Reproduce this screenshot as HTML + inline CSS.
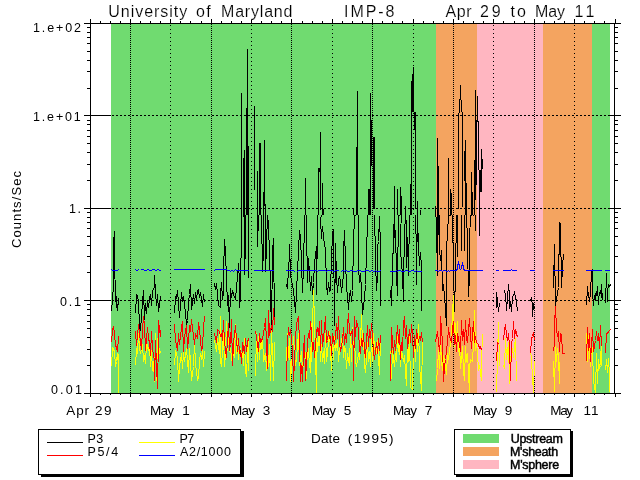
<!DOCTYPE html>
<html lang="en"><head><meta charset="utf-8"><title>University of Maryland IMP-8 Apr 29 to May 11</title>
<style>html,body{margin:0;padding:0;background:#fff;}body{width:640px;height:480px;overflow:hidden;}svg{display:block;}text{font-family:"Liberation Sans",sans-serif;fill:#000;}text.b{stroke:#000;stroke-width:0.45px;}text.t{stroke:#fff;stroke-width:0.15px;paint-order:fill stroke;}</style>
</head><body>
<svg width="640" height="480" viewBox="0 0 640 480" shape-rendering="crispEdges">
<rect x="0" y="0" width="640" height="480" fill="#fff"/>
<g id="regions">
<rect x="111" y="24" width="325" height="369" fill="#70db70"/>
<rect x="436" y="24" width="41" height="369" fill="#f4a460"/>
<rect x="477" y="24" width="66" height="369" fill="#ffb6c1"/>
<rect x="543" y="24" width="49" height="369" fill="#f4a460"/>
<rect x="592" y="24" width="18" height="369" fill="#70db70"/>
</g>
<g id="grid" stroke="#000" stroke-width="1" fill="none">
<line x1="130.5" y1="24" x2="130.5" y2="393" stroke-dasharray="1 1"/>
<line x1="170.5" y1="25" x2="170.5" y2="393" stroke-dasharray="1 3"/>
<line x1="211.5" y1="24" x2="211.5" y2="393" stroke-dasharray="1 1"/>
<line x1="251.5" y1="25" x2="251.5" y2="393" stroke-dasharray="1 3"/>
<line x1="291.5" y1="24" x2="291.5" y2="393" stroke-dasharray="1 1"/>
<line x1="332.5" y1="25" x2="332.5" y2="393" stroke-dasharray="1 3"/>
<line x1="372.5" y1="24" x2="372.5" y2="393" stroke-dasharray="1 1"/>
<line x1="413.5" y1="25" x2="413.5" y2="393" stroke-dasharray="1 3"/>
<line x1="453.5" y1="24" x2="453.5" y2="393" stroke-dasharray="1 1"/>
<line x1="493.5" y1="25" x2="493.5" y2="393" stroke-dasharray="1 3"/>
<line x1="534.5" y1="24" x2="534.5" y2="393" stroke-dasharray="1 1"/>
<line x1="574.5" y1="25" x2="574.5" y2="393" stroke-dasharray="1 3"/>
<line x1="90" y1="115.5" x2="111" y2="115.5"/>
<line x1="112" y1="115.5" x2="610" y2="115.5" stroke-dasharray="2 2"/>
<line x1="610" y1="115.5" x2="614" y2="115.5"/>
<line x1="90" y1="208.5" x2="111" y2="208.5"/>
<line x1="112" y1="208.5" x2="610" y2="208.5" stroke-dasharray="2 2"/>
<line x1="610" y1="208.5" x2="614" y2="208.5"/>
<line x1="90" y1="300.5" x2="111" y2="300.5"/>
<line x1="112" y1="300.5" x2="610" y2="300.5" stroke-dasharray="2 2"/>
<line x1="610" y1="300.5" x2="614" y2="300.5"/>
</g>
<defs><clipPath id="plotclip"><rect x="91" y="24" width="523" height="370"/></clipPath><clipPath id="lowclip"><rect x="91" y="215" width="523" height="179"/></clipPath></defs>
<g id="p3" stroke="#000" stroke-width="1" fill="none" stroke-linejoin="bevel" clip-path="url(#lowclip)">
<polyline points="111.5,311.5 112.5,298.5 113.5,285.5 113.5,243.5 114.5,231.5 114.5,261.5 115.5,296.5 116.5,307.5 116.5,296.5 117.5,310.5 118.5,298.5 118.5,304.5"/>
<polyline points="135.5,313.5 136.5,294.5 137.5,296.5 138.5,301.5 139.5,326.5 140.5,330.5 141.5,316.5 142.5,301.5 143.5,290.5 144.5,319.5 145.5,303.5 146.5,313.5 147.5,300.5 148.5,307.5 149.5,298.5 150.5,294.5 151.5,305.5 152.5,291.5 154.5,286.5 154.5,275.5 155.5,291.5 156.5,305.5 157.5,294.5 158.5,311.5 160.5,296.5 160.5,300.5"/>
<polyline points="174.5,313.5 175.5,296.5 176.5,298.5 177.5,290.5 178.5,303.5 179.5,317.5 181.5,292.5 182.5,301.5 183.5,296.5 184.5,305.5 185.5,311.5 186.5,326.5 187.5,320.5 188.5,301.5 189.5,294.5 190.5,284.5 191.5,309.5 193.5,294.5 194.5,303.5 195.5,292.5 196.5,299.5 197.5,290.5 198.5,289.5 199.5,297.5 200.5,292.5 202.5,306.5 203.5,294.5 204.5,302.5"/>
<polyline points="214.5,283.5 215.5,289.5 216.5,283.5 217.5,294.5 218.5,305.5 220.5,307.5 220.5,293.5 221.5,282.5 222.5,299.5 223.5,292.5 223.5,272.5 224.5,239.5 225.5,252.5 226.5,278.5 227.5,305.5 228.5,295.5 229.5,327.5 230.5,288.5 231.5,297.5 232.5,290.5 233.5,294.5 235.5,299.5 236.5,287.5 237.5,276.5 238.5,263.5 239.5,282.5 239.5,307.5 240.5,297.5 241.5,220.5 241.5,93.5 242.5,200.5 243.5,158.5 244.5,274.5 244.5,150.5 245.5,258.5 246.5,108.5 246.5,200.5 247.5,49.5 248.5,277.5 248.5,250.5"/>
<polyline points="254.5,190.5 255.5,106.5 255.5,190.5 256.5,160.5 257.5,246.5 257.5,171.5 258.5,230.5 259.5,143.5 260.5,150.5 261.5,215.5 262.5,271.5 263.5,251.5 263.5,192.5 264.5,140.5 265.5,205.5 265.5,271.5 266.5,247.5 267.5,210.5 268.5,228.5 269.5,250.5 269.5,243.5 270.5,294.5 271.5,329.5 272.5,252.5 273.5,238.5 274.5,324.5"/>
<polyline points="286.5,284.5 287.5,288.5 288.5,267.5 289.5,256.5 289.5,244.5 290.5,273.5 291.5,281.5 292.5,284.5 293.5,290.5 294.5,301.5 295.5,312.5 299.5,230.5 300.5,237.5 301.5,262.5 302.5,292.5 303.5,266.5 304.5,220.5 305.5,178.5 306.5,228.5 307.5,282.5 308.5,258.5 309.5,273.5 310.5,290.5 311.5,276.5 312.5,294.5 313.5,282.5 314.5,263.5 316.5,246.5 316.5,294.5 317.5,224.5 318.5,168.5 319.5,175.5 320.5,132.5 321.5,168.5 322.5,183.5 324.5,209.5 320.5,218.5 321.5,238.5 322.5,226.5 323.5,237.5 325.5,250.5 326.5,284.5 327.5,294.5 328.5,282.5 329.5,291.5 330.5,290.5 331.5,258.5 332.5,233.5 333.5,229.5 334.5,325.5 335.5,243.5 336.5,276.5 337.5,292.5 338.5,280.5 339.5,276.5 340.5,281.5 341.5,292.5 343.5,274.5 343.5,252.5 344.5,230.5 345.5,261.5 346.5,286.5 347.5,296.5 348.5,309.5 349.5,295.5 350.5,290.5 351.5,301.5 352.5,290.5 353.5,243.5 354.5,215.5 353.5,208.5 355.5,215.5 356.5,147.5 357.5,200.5 357.5,90.5 358.5,215.5 358.5,266.5 359.5,282.5 360.5,273.5 361.5,290.5 362.5,314.5 364.5,297.5 365.5,284.5 366.5,252.5 367.5,222.5 368.5,189.5 369.5,200.5 370.5,93.5 371.5,140.5 371.5,166.5 372.5,125.5 373.5,137.5 374.5,209.5 375.5,261.5 376.5,290.5 377.5,275.5 377.5,246.5 378.5,241.5 379.5,216.5 380.5,246.5 380.5,275.5 380.5,305.5"/>
<polyline points="390.5,290.5 391.5,305.5 391.5,297.5 392.5,275.5 393.5,233.5 394.5,215.5 394.5,186.5 394.5,237.5 395.5,230.5 396.5,275.5 397.5,295.5 397.5,261.5 398.5,233.5 398.5,189.5 399.5,215.5 400.5,187.5 401.5,196.5 400.5,252.5 401.5,261.5 402.5,276.5 403.5,301.5 403.5,271.5 404.5,243.5 405.5,205.5 406.5,233.5 406.5,267.5 407.5,237.5 408.5,275.5 409.5,215.5 410.5,184.5 411.5,81.5 411.5,140.5 412.5,74.5 413.5,67.5 414.5,112.5 415.5,209.5 415.5,180.5 416.5,284.5 417.5,201.5 417.5,241.5 418.5,233.5 418.5,246.5 419.5,265.5 420.5,252.5 421.5,267.5 421.5,310.5"/>
<polyline points="435.5,215.5 435.5,205.5 436.5,228.5 437.5,275.5 437.5,138.5 438.5,234.5 438.5,166.5 439.5,249.5 440.5,260.5 441.5,250.5 442.5,290.5 443.5,284.5 445.5,309.5 446.5,325.5 446.5,271.5 446.5,249.5 448.5,215.5 448.5,158.5 449.5,215.5 450.5,189.5 450.5,215.5 451.5,193.5 452.5,215.5 453.5,268.5 454.5,311.5 455.5,273.5 456.5,215.5 457.5,200.5 457.5,256.5 458.5,125.5 458.5,113.5 459.5,209.5 459.5,99.5 460.5,85.5 461.5,250.5 461.5,100.5 462.5,207.5 462.5,112.5 463.5,170.5 464.5,250.5 464.5,151.5 464.5,181.5 465.5,140.5 466.5,183.5 466.5,215.5 467.5,240.5 468.5,296.5 469.5,275.5 469.5,240.5 470.5,215.5 471.5,172.5 471.5,215.5 472.5,192.5 473.5,215.5 474.5,160.5 474.5,90.5 475.5,230.5 476.5,120.5 476.5,185.5 477.5,96.5 478.5,121.5 478.5,170.5 479.5,235.5 480.5,192.5 481.5,149.5 481.5,192.5 482.5,159.5 483.5,169.5"/>
<polyline points="496.5,307.5 496.5,292.5 497.5,301.5 498.5,311.5 499.5,303.5"/>
<polyline points="503.5,291.5 504.5,290.5 505.5,295.5 505.5,293.5 506.5,310.5 507.5,298.5 508.5,284.5 509.5,295.5 509.5,308.5 510.5,301.5 511.5,311.5 512.5,297.5 514.5,292.5 514.5,291.5 515.5,297.5 516.5,301.5 517.5,311.5"/>
<polyline points="530.5,301.5 531.5,297.5 532.5,305.5 532.5,316.5 533.5,303.5 534.5,309.5"/>
<polyline points="553.5,264.5 553.5,287.5 554.5,244.5 555.5,305.5 556.5,299.5 557.5,293.5 558.5,287.5 559.5,222.5 560.5,224.5 561.5,287.5 562.5,266.5 563.5,254.5"/>
<polyline points="586.5,305.5 587.5,286.5 587.5,290.5 588.5,294.5 589.5,301.5 590.5,292.5 591.5,271.5 592.5,269.5 592.5,292.5 593.5,305.5 594.5,295.5 595.5,300.5 595.5,293.5 596.5,295.5 597.5,286.5 598.5,304.5 598.5,299.5 599.5,293.5 600.5,290.5 601.5,297.5 601.5,284.5 602.5,300.5"/>
<polyline points="605.5,303.5 606.5,273.5 607.5,301.5 607.5,291.5 608.5,284.5 609.5,286.5 610.5,284.5"/>
</g>
<g id="p3bars" fill="#000">
<rect x="241" y="93" width="1" height="122"/>
<rect x="243" y="158" width="1" height="57"/>
<rect x="244" y="150" width="1" height="65"/>
<rect x="246" y="108" width="1" height="107"/>
<rect x="247" y="49" width="1" height="166"/>
<rect x="248" y="146" width="1" height="69"/>
<rect x="254" y="106" width="1" height="84"/>
<rect x="257" y="171" width="1" height="44"/>
<rect x="259" y="143" width="1" height="72"/>
<rect x="260" y="143" width="1" height="72"/>
<rect x="263" y="192" width="1" height="23"/>
<rect x="264" y="140" width="1" height="66"/>
<rect x="265" y="204" width="1" height="11"/>
<rect x="305" y="178" width="1" height="37"/>
<rect x="318" y="168" width="1" height="47"/>
<rect x="319" y="168" width="1" height="4"/>
<rect x="320" y="132" width="1" height="78"/>
<rect x="322" y="183" width="1" height="32"/>
<rect x="323" y="209" width="1" height="6"/>
<rect x="353" y="208" width="1" height="7"/>
<rect x="356" y="147" width="1" height="68"/>
<rect x="357" y="91" width="1" height="124"/>
<rect x="368" y="189" width="1" height="26"/>
<rect x="369" y="189" width="1" height="26"/>
<rect x="370" y="93" width="1" height="122"/>
<rect x="371" y="120" width="1" height="46"/>
<rect x="373" y="137" width="1" height="72"/>
<rect x="374" y="137" width="1" height="72"/>
<rect x="394" y="186" width="1" height="29"/>
<rect x="397" y="189" width="1" height="26"/>
<rect x="400" y="187" width="1" height="28"/>
<rect x="401" y="196" width="1" height="19"/>
<rect x="405" y="206" width="1" height="9"/>
<rect x="410" y="184" width="1" height="31"/>
<rect x="411" y="81" width="1" height="134"/>
<rect x="412" y="74" width="1" height="38"/>
<rect x="413" y="67" width="1" height="45"/>
<rect x="414" y="112" width="1" height="18"/>
<rect x="415" y="112" width="1" height="97"/>
<rect x="417" y="201" width="1" height="14"/>
<rect x="420" y="210" width="1" height="5"/>
<rect x="435" y="206" width="1" height="9"/>
<rect x="437" y="138" width="1" height="77"/>
<rect x="438" y="166" width="1" height="49"/>
<rect x="448" y="158" width="1" height="57"/>
<rect x="450" y="189" width="1" height="26"/>
<rect x="451" y="193" width="1" height="22"/>
<rect x="458" y="113" width="1" height="96"/>
<rect x="459" y="99" width="1" height="14"/>
<rect x="460" y="85" width="1" height="15"/>
<rect x="461" y="100" width="1" height="12"/>
<rect x="462" y="112" width="1" height="95"/>
<rect x="464" y="151" width="1" height="30"/>
<rect x="465" y="140" width="1" height="75"/>
<rect x="466" y="183" width="1" height="32"/>
<rect x="471" y="172" width="1" height="43"/>
<rect x="472" y="192" width="1" height="23"/>
<rect x="474" y="160" width="1" height="55"/>
<rect x="475" y="90" width="1" height="110"/>
<rect x="476" y="120" width="1" height="65"/>
<rect x="477" y="96" width="1" height="26"/>
<rect x="478" y="121" width="1" height="49"/>
<rect x="479" y="170" width="1" height="45"/>
<rect x="480" y="170" width="1" height="22"/>
<rect x="481" y="149" width="1" height="43"/>
<rect x="482" y="159" width="1" height="10"/>
</g>
<g id="p7" stroke="#ff0" stroke-width="1" fill="none" stroke-linejoin="bevel" clip-path="url(#plotclip)">
<polyline points="111.5,366.5 112.5,347.5 114.5,351.5 115.5,366.5 116.5,361.5 117.5,353.5 118.5,366.5 118.5,392.5 118.5,353.5"/>
<polyline points="135.5,365.5 136.5,348.5 137.5,353.5 138.5,333.5 139.5,348.5 140.5,353.5 142.5,344.5 143.5,361.5 144.5,355.5 145.5,363.5 146.5,342.5 148.5,350.5 149.5,344.5 150.5,366.5 151.5,350.5 152.5,370.5 153.5,361.5 154.5,381.5 155.5,333.5 156.5,380.5 157.5,338.5 158.5,359.5 159.5,348.5 160.5,353.5"/>
<polyline points="174.5,365.5 175.5,350.5 177.5,357.5 178.5,381.5 179.5,366.5 181.5,353.5 182.5,368.5 183.5,351.5 184.5,361.5 186.5,348.5 187.5,361.5 188.5,372.5 189.5,348.5 190.5,361.5 191.5,380.5 193.5,366.5 194.5,342.5 195.5,363.5 197.5,380.5 198.5,376.5 199.5,361.5 200.5,353.5 201.5,359.5 202.5,350.5 203.5,366.5 204.5,351.5"/>
<polyline points="214.5,340.5 216.5,351.5 217.5,338.5 219.5,353.5 220.5,316.5 220.5,361.5 221.5,366.5 223.5,333.5 224.5,366.5 225.5,353.5 226.5,321.5 227.5,350.5 228.5,338.5 229.5,351.5 230.5,348.5 232.5,365.5 233.5,346.5 234.5,357.5 235.5,324.5 236.5,353.5 237.5,340.5 238.5,359.5 239.5,346.5 241.5,353.5 242.5,350.5 243.5,365.5 244.5,338.5 245.5,370.5 246.5,376.5 247.5,351.5 248.5,338.5 248.5,370.5"/>
<polyline points="255.5,376.5 256.5,333.5 257.5,361.5 258.5,336.5 259.5,359.5 260.5,340.5 261.5,348.5 262.5,336.5 263.5,361.5 265.5,353.5 266.5,370.5 267.5,351.5 268.5,366.5 269.5,344.5 270.5,380.5 271.5,331.5 272.5,353.5 273.5,380.5 274.5,342.5"/>
<polyline points="286.5,361.5 287.5,333.5 288.5,357.5 289.5,338.5 290.5,381.5 292.5,351.5 293.5,336.5 294.5,353.5 295.5,365.5 296.5,359.5 297.5,344.5 298.5,333.5 299.5,365.5 301.5,351.5 302.5,372.5 303.5,361.5 304.5,346.5 305.5,357.5 306.5,378.5 307.5,342.5 308.5,353.5 310.5,372.5 311.5,323.5 311.5,361.5 313.5,290.5 314.5,321.5 316.5,392.5 316.5,331.5 317.5,351.5 319.5,329.5 320.5,361.5 321.5,344.5 322.5,361.5 323.5,351.5 324.5,363.5 325.5,333.5 326.5,361.5 328.5,342.5 329.5,331.5 330.5,351.5 331.5,370.5 332.5,333.5 333.5,359.5 334.5,336.5 335.5,350.5 337.5,340.5 338.5,361.5 339.5,348.5 340.5,350.5 342.5,333.5 343.5,357.5 344.5,346.5 345.5,350.5 346.5,368.5 347.5,353.5 349.5,365.5 350.5,331.5 351.5,361.5 352.5,327.5 353.5,353.5 354.5,340.5 355.5,361.5 356.5,366.5 358.5,353.5 359.5,359.5 360.5,342.5 361.5,314.5 362.5,344.5 363.5,333.5 364.5,365.5 365.5,372.5 367.5,342.5 368.5,361.5 369.5,351.5 370.5,366.5 371.5,338.5 372.5,361.5 373.5,333.5 374.5,348.5 376.5,353.5 377.5,340.5 378.5,357.5 379.5,374.5 380.5,338.5"/>
<polyline points="390.5,351.5 391.5,378.5 392.5,350.5 394.5,366.5 395.5,353.5 396.5,361.5 397.5,336.5 398.5,351.5 399.5,342.5 400.5,366.5 401.5,350.5 403.5,361.5 404.5,355.5 405.5,372.5 406.5,385.5 407.5,342.5 408.5,361.5 409.5,333.5 410.5,387.5 412.5,389.5 413.5,350.5 414.5,342.5 415.5,361.5 416.5,329.5 417.5,351.5 418.5,324.5 419.5,366.5 420.5,376.5 421.5,390.5 422.5,342.5"/>
<polyline points="436.5,381.5 437.5,368.5 438.5,350.5 439.5,368.5 440.5,342.5 441.5,361.5 442.5,370.5 443.5,355.5 445.5,366.5 446.5,374.5 447.5,353.5 448.5,359.5 449.5,351.5 450.5,342.5 451.5,333.5 452.5,312.5 453.5,295.5 454.5,346.5 455.5,323.5 456.5,342.5 457.5,321.5 458.5,351.5 459.5,342.5 460.5,368.5 461.5,357.5 462.5,346.5 463.5,370.5 464.5,380.5 465.5,346.5 466.5,361.5 467.5,353.5 469.5,392.5 469.5,366.5 470.5,359.5 472.5,361.5 473.5,342.5 474.5,310.5 475.5,350.5 476.5,342.5 477.5,353.5 478.5,370.5 479.5,365.5 481.5,380.5 481.5,361.5 482.5,334.5"/>
<polyline points="496.5,392.5 497.5,357.5 498.5,322.5 499.5,366.5"/>
<polyline points="503.5,365.5 504.5,368.5 505.5,338.5 506.5,359.5 508.5,342.5 509.5,383.5 510.5,361.5 511.5,351.5 512.5,348.5 513.5,357.5 514.5,346.5 515.5,338.5 516.5,381.5"/>
<polyline points="530.5,348.5 531.5,361.5 532.5,376.5 533.5,392.5 534.5,361.5"/>
<polyline points="553.5,361.5 554.5,391.5 555.5,346.5 556.5,361.5 557.5,348.5 558.5,357.5 559.5,383.5 559.5,361.5"/>
<polyline points="586.5,333.5 587.5,361.5 588.5,335.5 589.5,350.5 590.5,366.5 591.5,342.5 592.5,351.5 593.5,380.5 595.5,392.5 596.5,353.5 597.5,383.5 598.5,359.5 599.5,368.5 600.5,365.5 601.5,336.5 601.5,365.5"/>
<polyline points="605.5,370.5 606.5,359.5 607.5,372.5 608.5,358.5 609.5,374.5 609.5,391.5"/>
</g>
<g id="p5" stroke="#f00" stroke-width="1" fill="none" stroke-linejoin="bevel" clip-path="url(#plotclip)">
<polyline points="111.5,342.5 112.5,329.5 113.5,326.5 114.5,333.5 115.5,345.5 116.5,347.5 117.5,351.5 118.5,336.5"/>
<polyline points="135.5,331.5 136.5,345.5 138.5,324.5 139.5,333.5 141.5,349.5 142.5,329.5 143.5,316.5 144.5,325.5 145.5,350.5 147.5,327.5 148.5,338.5 149.5,342.5 150.5,355.5 151.5,331.5 152.5,348.5 154.5,361.5 154.5,380.5 155.5,340.5 157.5,388.5 158.5,338.5 158.5,320.5 160.5,336.5 160.5,329.5"/>
<polyline points="174.5,324.5 175.5,340.5 177.5,350.5 178.5,333.5 179.5,344.5 181.5,327.5 182.5,321.5 183.5,351.5 184.5,336.5 186.5,325.5 187.5,348.5 188.5,340.5 189.5,325.5 190.5,331.5 191.5,319.5 193.5,335.5 194.5,344.5 195.5,333.5 197.5,338.5 198.5,322.5 199.5,329.5 200.5,340.5 201.5,350.5 202.5,346.5 203.5,327.5 204.5,316.5"/>
<polyline points="214.5,333.5 216.5,342.5 217.5,329.5 219.5,331.5 220.5,336.5 221.5,333.5 222.5,340.5 223.5,320.5 224.5,342.5 226.5,357.5 227.5,338.5 228.5,323.5 229.5,350.5 230.5,344.5 231.5,319.5 232.5,365.5 233.5,342.5 235.5,325.5 236.5,340.5 237.5,351.5 238.5,338.5 239.5,353.5 240.5,350.5 241.5,363.5 242.5,342.5 244.5,353.5 245.5,338.5 246.5,351.5 247.5,342.5 248.5,338.5"/>
<polyline points="255.5,331.5 256.5,336.5 257.5,344.5 258.5,351.5 259.5,333.5 260.5,342.5 262.5,338.5 263.5,333.5 264.5,327.5 265.5,318.5 266.5,342.5 267.5,368.5 268.5,310.5 269.5,335.5 271.5,325.5 272.5,331.5 273.5,308.5 274.5,325.5"/>
<polyline points="286.5,381.5 287.5,342.5 288.5,327.5 289.5,335.5 290.5,329.5 291.5,338.5 292.5,350.5 293.5,381.5 294.5,361.5 295.5,338.5 296.5,323.5 298.5,316.5 299.5,342.5 300.5,381.5 301.5,365.5 302.5,381.5 303.5,351.5 304.5,335.5 305.5,380.5 307.5,342.5 308.5,333.5 309.5,338.5 310.5,321.5 311.5,331.5 312.5,351.5 313.5,342.5 314.5,357.5 316.5,331.5 317.5,327.5 318.5,335.5 319.5,321.5 320.5,350.5 321.5,320.5 322.5,346.5 323.5,338.5 325.5,316.5 326.5,342.5 327.5,340.5 328.5,331.5 329.5,338.5 330.5,336.5 331.5,355.5 332.5,333.5 334.5,344.5 335.5,336.5 336.5,323.5 337.5,338.5 338.5,316.5 339.5,342.5 340.5,351.5 342.5,340.5 343.5,327.5 344.5,344.5 345.5,333.5 346.5,342.5 347.5,325.5 348.5,313.5 349.5,331.5 350.5,335.5 352.5,329.5 353.5,359.5 353.5,380.5 354.5,316.5 355.5,336.5 356.5,320.5 358.5,329.5 359.5,350.5 360.5,353.5 361.5,338.5 362.5,346.5 363.5,333.5 364.5,350.5 365.5,357.5 367.5,325.5 368.5,346.5 369.5,329.5 370.5,338.5 371.5,323.5 372.5,335.5 373.5,351.5 374.5,359.5 376.5,342.5 377.5,353.5 378.5,338.5 379.5,350.5 380.5,335.5"/>
<polyline points="390.5,381.5 391.5,327.5 392.5,342.5 393.5,353.5 394.5,340.5 395.5,350.5 397.5,325.5 398.5,342.5 399.5,329.5 400.5,359.5 401.5,342.5 402.5,350.5 403.5,323.5 404.5,316.5 405.5,338.5 406.5,325.5 407.5,348.5 409.5,329.5 410.5,342.5 411.5,324.5 412.5,333.5 413.5,357.5 414.5,335.5 415.5,348.5 416.5,329.5 418.5,342.5 419.5,336.5 420.5,340.5 421.5,332.5 422.5,342.5"/>
<polyline points="435.5,342.5 436.5,336.5 437.5,331.5 439.5,351.5 440.5,338.5 440.5,316.5 442.5,342.5 443.5,381.5 444.5,366.5 445.5,359.5 446.5,350.5 447.5,342.5 448.5,327.5 449.5,336.5 451.5,342.5 452.5,329.5 453.5,321.5 454.5,344.5 455.5,335.5 456.5,351.5 457.5,333.5 458.5,338.5 460.5,351.5 461.5,320.5 462.5,340.5 463.5,329.5 464.5,344.5 465.5,320.5 466.5,338.5 467.5,342.5 469.5,318.5 470.5,335.5 471.5,348.5 472.5,333.5 473.5,321.5 474.5,342.5 475.5,336.5 476.5,342.5 478.5,344.5 479.5,348.5 480.5,346.5 481.5,350.5"/>
<polyline points="496.5,361.5 497.5,342.5 498.5,344.5"/>
<polyline points="503.5,340.5 504.5,329.5 505.5,324.5 506.5,335.5 507.5,340.5 508.5,333.5 509.5,346.5 510.5,380.5 511.5,344.5 512.5,338.5 513.5,321.5 514.5,338.5 515.5,329.5 517.5,337.5"/>
<polyline points="530.5,353.5 531.5,338.5 532.5,336.5 533.5,332.5 534.5,340.5"/>
<polyline points="553.5,351.5 554.5,342.5 554.5,323.5 555.5,306.5 556.5,329.5 557.5,336.5 558.5,331.5 559.5,351.5 560.5,333.5 561.5,334.5 562.5,353.5 564.5,353.5"/>
<polyline points="586.5,361.5 587.5,327.5 588.5,350.5 589.5,333.5 590.5,361.5 592.5,329.5 593.5,351.5 594.5,346.5 595.5,340.5 596.5,331.5 597.5,340.5 598.5,333.5 599.5,348.5 600.5,325.5 601.5,346.5"/>
<polyline points="605.5,353.5 606.5,333.5 607.5,333.5 608.5,331.5 610.5,329.5"/>
</g>
<g id="a2" fill="#00f">
<rect x="111" y="269" width="1" height="1"/>
<rect x="112" y="270" width="1" height="1"/>
<rect x="112" y="270" width="6" height="1"/>
<rect x="117" y="270" width="1" height="1"/>
<rect x="118" y="269" width="1" height="1"/>
<rect x="135" y="269" width="1" height="1"/>
<rect x="136" y="270" width="1" height="1"/>
<rect x="136" y="270" width="2" height="1"/>
<rect x="137" y="270" width="1" height="1"/>
<rect x="138" y="269" width="1" height="1"/>
<rect x="141" y="269" width="3" height="1"/>
<rect x="143" y="269" width="1" height="1"/>
<rect x="144" y="270" width="1" height="1"/>
<rect x="144" y="270" width="3" height="1"/>
<rect x="146" y="270" width="1" height="1"/>
<rect x="147" y="269" width="1" height="1"/>
<rect x="147" y="269" width="2" height="1"/>
<rect x="148" y="269" width="1" height="1"/>
<rect x="149" y="270" width="1" height="1"/>
<rect x="149" y="270" width="3" height="1"/>
<rect x="151" y="270" width="1" height="1"/>
<rect x="152" y="269" width="1" height="1"/>
<rect x="152" y="269" width="3" height="1"/>
<rect x="154" y="269" width="1" height="1"/>
<rect x="155" y="270" width="1" height="1"/>
<rect x="155" y="270" width="2" height="1"/>
<rect x="156" y="270" width="1" height="1"/>
<rect x="157" y="269" width="1" height="1"/>
<rect x="157" y="269" width="2" height="1"/>
<rect x="158" y="269" width="1" height="1"/>
<rect x="159" y="270" width="1" height="1"/>
<rect x="159" y="270" width="2" height="1"/>
<rect x="174" y="269" width="31" height="1"/>
<rect x="214" y="270" width="1" height="1"/>
<rect x="215" y="269" width="1" height="1"/>
<rect x="215" y="269" width="12" height="1"/>
<rect x="226" y="269" width="1" height="1"/>
<rect x="227" y="270" width="1" height="1"/>
<rect x="227" y="270" width="3" height="1"/>
<rect x="229" y="270" width="1" height="1"/>
<rect x="230" y="271" width="1" height="1"/>
<rect x="230" y="271" width="1" height="1"/>
<rect x="231" y="270" width="1" height="1"/>
<rect x="231" y="270" width="2" height="1"/>
<rect x="232" y="270" width="1" height="1"/>
<rect x="233" y="271" width="1" height="1"/>
<rect x="233" y="271" width="1" height="1"/>
<rect x="234" y="270" width="1" height="1"/>
<rect x="234" y="270" width="1" height="1"/>
<rect x="235" y="269" width="1" height="1"/>
<rect x="235" y="269" width="1" height="1"/>
<rect x="236" y="270" width="1" height="1"/>
<rect x="236" y="270" width="13" height="1"/>
<rect x="254" y="270" width="20" height="1"/>
<rect x="286" y="270" width="8" height="1"/>
<rect x="293" y="270" width="1" height="1"/>
<rect x="294" y="271" width="1" height="1"/>
<rect x="297" y="271" width="1" height="1"/>
<rect x="298" y="270" width="1" height="1"/>
<rect x="298" y="270" width="19" height="1"/>
<rect x="316" y="270" width="1" height="1"/>
<rect x="317" y="271" width="1" height="1"/>
<rect x="317" y="271" width="1" height="1"/>
<rect x="318" y="270" width="1" height="1"/>
<rect x="318" y="270" width="8" height="1"/>
<rect x="325" y="270" width="1" height="1"/>
<rect x="326" y="271" width="1" height="1"/>
<rect x="326" y="271" width="1" height="1"/>
<rect x="327" y="270" width="1" height="1"/>
<rect x="327" y="270" width="6" height="1"/>
<rect x="332" y="270" width="1" height="1"/>
<rect x="333" y="271" width="1" height="1"/>
<rect x="333" y="271" width="2" height="1"/>
<rect x="334" y="271" width="1" height="1"/>
<rect x="335" y="270" width="1" height="1"/>
<rect x="335" y="270" width="4" height="1"/>
<rect x="341" y="271" width="1" height="1"/>
<rect x="342" y="270" width="1" height="1"/>
<rect x="342" y="270" width="1" height="1"/>
<rect x="344" y="271" width="1" height="1"/>
<rect x="342" y="270" width="2" height="1"/>
<rect x="344" y="271" width="1" height="1"/>
<rect x="345" y="270" width="1" height="1"/>
<rect x="345" y="270" width="1" height="1"/>
<rect x="347" y="271" width="1" height="1"/>
<rect x="345" y="270" width="2" height="1"/>
<rect x="347" y="271" width="3" height="1"/>
<rect x="349" y="271" width="1" height="1"/>
<rect x="350" y="270" width="1" height="1"/>
<rect x="350" y="270" width="3" height="1"/>
<rect x="352" y="270" width="1" height="1"/>
<rect x="353" y="271" width="1" height="1"/>
<rect x="353" y="271" width="4" height="1"/>
<rect x="356" y="271" width="1" height="1"/>
<rect x="357" y="270" width="1" height="1"/>
<rect x="357" y="270" width="4" height="1"/>
<rect x="360" y="270" width="1" height="1"/>
<rect x="361" y="271" width="1" height="1"/>
<rect x="361" y="271" width="4" height="1"/>
<rect x="364" y="271" width="1" height="1"/>
<rect x="365" y="270" width="1" height="1"/>
<rect x="365" y="270" width="4" height="1"/>
<rect x="368" y="270" width="1" height="1"/>
<rect x="369" y="271" width="1" height="1"/>
<rect x="369" y="271" width="1" height="1"/>
<rect x="371" y="270" width="1" height="1"/>
<rect x="369" y="271" width="2" height="1"/>
<rect x="371" y="270" width="1" height="1"/>
<rect x="373" y="271" width="1" height="1"/>
<rect x="371" y="270" width="2" height="1"/>
<rect x="373" y="271" width="1" height="1"/>
<rect x="375" y="270" width="1" height="1"/>
<rect x="373" y="271" width="2" height="1"/>
<rect x="375" y="270" width="1" height="1"/>
<rect x="376" y="271" width="1" height="1"/>
<rect x="376" y="271" width="3" height="1"/>
<rect x="378" y="271" width="1" height="1"/>
<rect x="380" y="270" width="1" height="1"/>
<rect x="378" y="271" width="2" height="1"/>
<rect x="390" y="271" width="6" height="1"/>
<rect x="395" y="271" width="1" height="1"/>
<rect x="396" y="270" width="1" height="1"/>
<rect x="396" y="270" width="1" height="1"/>
<rect x="397" y="271" width="1" height="1"/>
<rect x="397" y="271" width="1" height="1"/>
<rect x="398" y="270" width="1" height="1"/>
<rect x="398" y="270" width="3" height="1"/>
<rect x="400" y="270" width="1" height="1"/>
<rect x="401" y="271" width="1" height="1"/>
<rect x="401" y="271" width="4" height="1"/>
<rect x="404" y="271" width="1" height="1"/>
<rect x="405" y="270" width="1" height="1"/>
<rect x="405" y="270" width="3" height="1"/>
<rect x="407" y="270" width="1" height="1"/>
<rect x="408" y="271" width="1" height="1"/>
<rect x="408" y="271" width="3" height="1"/>
<rect x="410" y="271" width="1" height="1"/>
<rect x="411" y="270" width="1" height="1"/>
<rect x="411" y="270" width="3" height="1"/>
<rect x="413" y="270" width="1" height="1"/>
<rect x="414" y="271" width="1" height="1"/>
<rect x="414" y="271" width="1" height="1"/>
<rect x="416" y="270" width="1" height="1"/>
<rect x="414" y="271" width="2" height="1"/>
<rect x="416" y="270" width="1" height="1"/>
<rect x="417" y="271" width="1" height="1"/>
<rect x="417" y="271" width="5" height="1"/>
<rect x="435" y="270" width="3" height="1"/>
<rect x="437" y="270" width="1" height="1"/>
<rect x="438" y="271" width="1" height="1"/>
<rect x="438" y="271" width="1" height="1"/>
<rect x="439" y="270" width="1" height="1"/>
<rect x="439" y="270" width="3" height="1"/>
<rect x="441" y="270" width="1" height="1"/>
<rect x="442" y="271" width="1" height="1"/>
<rect x="442" y="271" width="1" height="1"/>
<rect x="443" y="270" width="1" height="1"/>
<rect x="443" y="270" width="3" height="1"/>
<rect x="445" y="270" width="1" height="1"/>
<rect x="446" y="271" width="1" height="1"/>
<rect x="446" y="271" width="1" height="1"/>
<rect x="448" y="270" width="1" height="1"/>
<rect x="446" y="271" width="2" height="1"/>
<rect x="448" y="270" width="1" height="1"/>
<rect x="449" y="271" width="1" height="1"/>
<rect x="449" y="271" width="1" height="1"/>
<rect x="450" y="270" width="1" height="1"/>
<rect x="450" y="270" width="7" height="1"/>
<rect x="456" y="269" width="1" height="2"/>
<rect x="457" y="268" width="1" height="2"/>
<rect x="457" y="264" width="1" height="5"/>
<rect x="458" y="261" width="1" height="4"/>
<rect x="458" y="261" width="1" height="4"/>
<rect x="459" y="264" width="1" height="5"/>
<rect x="459" y="268" width="1" height="1"/>
<rect x="460" y="269" width="1" height="1"/>
<rect x="460" y="269" width="1" height="1"/>
<rect x="461" y="268" width="1" height="1"/>
<rect x="461" y="265" width="1" height="4"/>
<rect x="462" y="262" width="1" height="4"/>
<rect x="462" y="262" width="1" height="4"/>
<rect x="463" y="265" width="1" height="4"/>
<rect x="463" y="268" width="1" height="2"/>
<rect x="464" y="269" width="1" height="2"/>
<rect x="464" y="270" width="19" height="1"/>
<rect x="496" y="270" width="3" height="1"/>
<rect x="503" y="270" width="8" height="1"/>
<rect x="510" y="270" width="1" height="1"/>
<rect x="511" y="269" width="1" height="1"/>
<rect x="511" y="269" width="1" height="1"/>
<rect x="512" y="270" width="1" height="1"/>
<rect x="512" y="270" width="5" height="1"/>
<rect x="530" y="270" width="5" height="1"/>
<rect x="553" y="270" width="11" height="1"/>
<rect x="586" y="270" width="16" height="1"/>
<rect x="605" y="270" width="5" height="1"/>
</g>
<g id="axes" fill="#000">
<rect x="90" y="23" width="525" height="1"/>
<rect x="90" y="393" width="525" height="1"/>
<rect x="90" y="23" width="1" height="371"/>
<rect x="614" y="23" width="1" height="371"/>
<rect x="90" y="19" width="1" height="4"/>
<rect x="90" y="394" width="1" height="3"/>
<rect x="100" y="21" width="1" height="2"/>
<rect x="100" y="394" width="1" height="1"/>
<rect x="110" y="21" width="1" height="2"/>
<rect x="110" y="394" width="1" height="1"/>
<rect x="120" y="21" width="1" height="2"/>
<rect x="120" y="394" width="1" height="1"/>
<rect x="130" y="19" width="1" height="4"/>
<rect x="130" y="394" width="1" height="3"/>
<rect x="140" y="21" width="1" height="2"/>
<rect x="140" y="394" width="1" height="1"/>
<rect x="150" y="21" width="1" height="2"/>
<rect x="150" y="394" width="1" height="1"/>
<rect x="160" y="21" width="1" height="2"/>
<rect x="160" y="394" width="1" height="1"/>
<rect x="170" y="19" width="1" height="4"/>
<rect x="170" y="394" width="1" height="3"/>
<rect x="180" y="21" width="1" height="2"/>
<rect x="180" y="394" width="1" height="1"/>
<rect x="190" y="21" width="1" height="2"/>
<rect x="190" y="394" width="1" height="1"/>
<rect x="201" y="21" width="1" height="2"/>
<rect x="201" y="394" width="1" height="1"/>
<rect x="211" y="19" width="1" height="4"/>
<rect x="211" y="394" width="1" height="3"/>
<rect x="221" y="21" width="1" height="2"/>
<rect x="221" y="394" width="1" height="1"/>
<rect x="231" y="21" width="1" height="2"/>
<rect x="231" y="394" width="1" height="1"/>
<rect x="241" y="21" width="1" height="2"/>
<rect x="241" y="394" width="1" height="1"/>
<rect x="251" y="19" width="1" height="4"/>
<rect x="251" y="394" width="1" height="3"/>
<rect x="261" y="21" width="1" height="2"/>
<rect x="261" y="394" width="1" height="1"/>
<rect x="271" y="21" width="1" height="2"/>
<rect x="271" y="394" width="1" height="1"/>
<rect x="281" y="21" width="1" height="2"/>
<rect x="281" y="394" width="1" height="1"/>
<rect x="291" y="19" width="1" height="4"/>
<rect x="291" y="394" width="1" height="3"/>
<rect x="302" y="21" width="1" height="2"/>
<rect x="302" y="394" width="1" height="1"/>
<rect x="312" y="21" width="1" height="2"/>
<rect x="312" y="394" width="1" height="1"/>
<rect x="322" y="21" width="1" height="2"/>
<rect x="322" y="394" width="1" height="1"/>
<rect x="332" y="19" width="1" height="4"/>
<rect x="332" y="394" width="1" height="3"/>
<rect x="342" y="21" width="1" height="2"/>
<rect x="342" y="394" width="1" height="1"/>
<rect x="352" y="21" width="1" height="2"/>
<rect x="352" y="394" width="1" height="1"/>
<rect x="362" y="21" width="1" height="2"/>
<rect x="362" y="394" width="1" height="1"/>
<rect x="372" y="19" width="1" height="4"/>
<rect x="372" y="394" width="1" height="3"/>
<rect x="382" y="21" width="1" height="2"/>
<rect x="382" y="394" width="1" height="1"/>
<rect x="392" y="21" width="1" height="2"/>
<rect x="392" y="394" width="1" height="1"/>
<rect x="402" y="21" width="1" height="2"/>
<rect x="402" y="394" width="1" height="1"/>
<rect x="413" y="19" width="1" height="4"/>
<rect x="413" y="394" width="1" height="3"/>
<rect x="423" y="21" width="1" height="2"/>
<rect x="423" y="394" width="1" height="1"/>
<rect x="433" y="21" width="1" height="2"/>
<rect x="433" y="394" width="1" height="1"/>
<rect x="443" y="21" width="1" height="2"/>
<rect x="443" y="394" width="1" height="1"/>
<rect x="453" y="19" width="1" height="4"/>
<rect x="453" y="394" width="1" height="3"/>
<rect x="463" y="21" width="1" height="2"/>
<rect x="463" y="394" width="1" height="1"/>
<rect x="473" y="21" width="1" height="2"/>
<rect x="473" y="394" width="1" height="1"/>
<rect x="483" y="21" width="1" height="2"/>
<rect x="483" y="394" width="1" height="1"/>
<rect x="493" y="19" width="1" height="4"/>
<rect x="493" y="394" width="1" height="3"/>
<rect x="503" y="21" width="1" height="2"/>
<rect x="503" y="394" width="1" height="1"/>
<rect x="514" y="21" width="1" height="2"/>
<rect x="514" y="394" width="1" height="1"/>
<rect x="524" y="21" width="1" height="2"/>
<rect x="524" y="394" width="1" height="1"/>
<rect x="534" y="19" width="1" height="4"/>
<rect x="534" y="394" width="1" height="3"/>
<rect x="544" y="21" width="1" height="2"/>
<rect x="544" y="394" width="1" height="1"/>
<rect x="554" y="21" width="1" height="2"/>
<rect x="554" y="394" width="1" height="1"/>
<rect x="564" y="21" width="1" height="2"/>
<rect x="564" y="394" width="1" height="1"/>
<rect x="574" y="19" width="1" height="4"/>
<rect x="574" y="394" width="1" height="3"/>
<rect x="584" y="21" width="1" height="2"/>
<rect x="584" y="394" width="1" height="1"/>
<rect x="594" y="21" width="1" height="2"/>
<rect x="594" y="394" width="1" height="1"/>
<rect x="604" y="21" width="1" height="2"/>
<rect x="604" y="394" width="1" height="1"/>
<rect x="615" y="19" width="1" height="4"/>
<rect x="615" y="394" width="1" height="3"/>
<rect x="84" y="393" width="6" height="1"/>
<rect x="615" y="393" width="6" height="1"/>
<rect x="87" y="365" width="3" height="1"/>
<rect x="615" y="365" width="3" height="1"/>
<rect x="87" y="349" width="3" height="1"/>
<rect x="615" y="349" width="3" height="1"/>
<rect x="87" y="337" width="3" height="1"/>
<rect x="615" y="337" width="3" height="1"/>
<rect x="87" y="328" width="3" height="1"/>
<rect x="615" y="328" width="3" height="1"/>
<rect x="87" y="321" width="3" height="1"/>
<rect x="615" y="321" width="3" height="1"/>
<rect x="87" y="315" width="3" height="1"/>
<rect x="615" y="315" width="3" height="1"/>
<rect x="87" y="309" width="3" height="1"/>
<rect x="615" y="309" width="3" height="1"/>
<rect x="87" y="304" width="3" height="1"/>
<rect x="615" y="304" width="3" height="1"/>
<rect x="84" y="300" width="6" height="1"/>
<rect x="615" y="300" width="6" height="1"/>
<rect x="87" y="272" width="3" height="1"/>
<rect x="615" y="272" width="3" height="1"/>
<rect x="87" y="256" width="3" height="1"/>
<rect x="615" y="256" width="3" height="1"/>
<rect x="87" y="245" width="3" height="1"/>
<rect x="615" y="245" width="3" height="1"/>
<rect x="87" y="236" width="3" height="1"/>
<rect x="615" y="236" width="3" height="1"/>
<rect x="87" y="228" width="3" height="1"/>
<rect x="615" y="228" width="3" height="1"/>
<rect x="87" y="222" width="3" height="1"/>
<rect x="615" y="222" width="3" height="1"/>
<rect x="87" y="217" width="3" height="1"/>
<rect x="615" y="217" width="3" height="1"/>
<rect x="87" y="212" width="3" height="1"/>
<rect x="615" y="212" width="3" height="1"/>
<rect x="84" y="208" width="6" height="1"/>
<rect x="615" y="208" width="6" height="1"/>
<rect x="87" y="180" width="3" height="1"/>
<rect x="615" y="180" width="3" height="1"/>
<rect x="87" y="164" width="3" height="1"/>
<rect x="615" y="164" width="3" height="1"/>
<rect x="87" y="152" width="3" height="1"/>
<rect x="615" y="152" width="3" height="1"/>
<rect x="87" y="143" width="3" height="1"/>
<rect x="615" y="143" width="3" height="1"/>
<rect x="87" y="136" width="3" height="1"/>
<rect x="615" y="136" width="3" height="1"/>
<rect x="87" y="130" width="3" height="1"/>
<rect x="615" y="130" width="3" height="1"/>
<rect x="87" y="124" width="3" height="1"/>
<rect x="615" y="124" width="3" height="1"/>
<rect x="87" y="120" width="3" height="1"/>
<rect x="615" y="120" width="3" height="1"/>
<rect x="84" y="115" width="6" height="1"/>
<rect x="615" y="115" width="6" height="1"/>
<rect x="87" y="88" width="3" height="1"/>
<rect x="615" y="88" width="3" height="1"/>
<rect x="87" y="71" width="3" height="1"/>
<rect x="615" y="71" width="3" height="1"/>
<rect x="87" y="60" width="3" height="1"/>
<rect x="615" y="60" width="3" height="1"/>
<rect x="87" y="51" width="3" height="1"/>
<rect x="615" y="51" width="3" height="1"/>
<rect x="87" y="43" width="3" height="1"/>
<rect x="615" y="43" width="3" height="1"/>
<rect x="87" y="37" width="3" height="1"/>
<rect x="615" y="37" width="3" height="1"/>
<rect x="87" y="32" width="3" height="1"/>
<rect x="615" y="32" width="3" height="1"/>
<rect x="87" y="27" width="3" height="1"/>
<rect x="615" y="27" width="3" height="1"/>
<rect x="84" y="23" width="6" height="1"/>
<rect x="615" y="23" width="6" height="1"/>
</g>
<text class="t" x="108.25" y="17" font-size="16" textLength="79.00" lengthAdjust="spacing">University</text>
<text class="t" x="196.00" y="17" font-size="16" textLength="14.67" lengthAdjust="spacing">of</text>
<text class="t" x="221.00" y="17" font-size="16" textLength="71.47" lengthAdjust="spacing">Maryland</text>
<text class="t" x="344.00" y="17" font-size="16" textLength="50.52" lengthAdjust="spacing">IMP-8</text>
<text class="t" x="445.48" y="17" font-size="16" textLength="26.10" lengthAdjust="spacing">Apr</text>
<text class="t" x="480.00" y="17" font-size="16" textLength="20.58" lengthAdjust="spacing">29</text>
<text class="t" x="510.38" y="17" font-size="16" textLength="15.62" lengthAdjust="spacing">to</text>
<text class="t" x="535.00" y="17" font-size="16" textLength="30.10" lengthAdjust="spacing">May</text>
<text class="t" x="574.58" y="17" font-size="16" textLength="19.83" lengthAdjust="spacing">11</text>
<text x="33.00" y="32" font-size="12.5" textLength="48.00" lengthAdjust="spacing">1.e+02</text>
<text x="33.00" y="121" font-size="12.5" textLength="47.80" lengthAdjust="spacing">1.e+01</text>
<text x="69.00" y="213" font-size="12.5" textLength="11.95" lengthAdjust="spacing">1.</text>
<text x="59.90" y="306" font-size="12.5" textLength="20.95" lengthAdjust="spacing">0.1</text>
<text x="50.90" y="394" font-size="12.5" textLength="30.95" lengthAdjust="spacing">0.01</text>
<text x="66.35" y="415" font-size="13.5" textLength="22.75" lengthAdjust="spacing">Apr</text>
<text x="95.00" y="415" font-size="13.5" textLength="16.58" lengthAdjust="spacing">29</text>
<text x="149.95" y="415" font-size="13.5" textLength="23.95" lengthAdjust="spacing">May</text>
<text x="182.25" y="415" font-size="13.5">1</text>
<text x="230.95" y="415" font-size="13.5" textLength="23.95" lengthAdjust="spacing">May</text>
<text x="262.80" y="415" font-size="13.5">3</text>
<text x="311.95" y="415" font-size="13.5" textLength="23.95" lengthAdjust="spacing">May</text>
<text x="343.80" y="415" font-size="13.5">5</text>
<text x="392.95" y="415" font-size="13.5" textLength="23.95" lengthAdjust="spacing">May</text>
<text x="424.80" y="415" font-size="13.5">7</text>
<text x="472.95" y="415" font-size="13.5" textLength="23.95" lengthAdjust="spacing">May</text>
<text x="504.80" y="415" font-size="13.5">9</text>
<text x="550.35" y="415" font-size="13.5" textLength="22.75" lengthAdjust="spacing">May</text>
<text x="583.40" y="415" font-size="13.5" textLength="15.00" lengthAdjust="spacing">11</text>
<text x="310.95" y="442.5" font-size="13.5" textLength="29.15" lengthAdjust="spacing">Date</text>
<text x="347.86" y="442.5" font-size="13.5" textLength="45.75" lengthAdjust="spacing">(1995)</text>
<text transform="translate(21,248) rotate(-90)" font-size="13" textLength="77" lengthAdjust="spacing">Counts/Sec</text>
<g id="legend1">
<rect x="41" y="431" width="203" height="46" fill="#000"/>
<rect x="38.5" y="429.5" width="202" height="45" fill="#fff" stroke="#000" stroke-width="1"/>
<line x1="47" y1="442.5" x2="83" y2="442.5" stroke="#000" stroke-width="1"/>
<text x="87.60" y="443.0" font-size="12.5" textLength="15.65" lengthAdjust="spacing">P3</text>
<line x1="47" y1="455.5" x2="83" y2="455.5" stroke="#f00" stroke-width="1"/>
<text x="87.60" y="456.0" font-size="12.5" textLength="30.50" lengthAdjust="spacing">P5/4</text>
<line x1="139" y1="442.5" x2="175" y2="442.5" stroke="#ff0" stroke-width="1"/>
<text x="179.47" y="443.0" font-size="12.5" textLength="14.63" lengthAdjust="spacing">P7</text>
<line x1="139" y1="455.5" x2="175" y2="455.5" stroke="#00f" stroke-width="1"/>
<text x="179.90" y="456.0" font-size="12.5" textLength="50.95" lengthAdjust="spacing">A2/1000</text>
</g>
<g id="legend2">
<rect x="456" y="431" width="117" height="46" fill="#000"/>
<rect x="454.5" y="429.5" width="116" height="45" fill="#fff" stroke="#000" stroke-width="1"/>
<rect x="463" y="434" width="36" height="9" fill="#70db70"/>
<text class="b" x="510.70" y="443" font-size="12.5" textLength="52.20" lengthAdjust="spacing">Upstream</text>
<rect x="463" y="447" width="36" height="9" fill="#f4a460"/>
<text class="b" x="510.00" y="456" font-size="12.5" textLength="48.25" lengthAdjust="spacing">M'sheath</text>
<rect x="463" y="460" width="36" height="9" fill="#ffb6c1"/>
<text class="b" x="510.00" y="469" font-size="12.5" textLength="49.10" lengthAdjust="spacing">M'sphere</text>
</g>
</svg>
</body></html>
